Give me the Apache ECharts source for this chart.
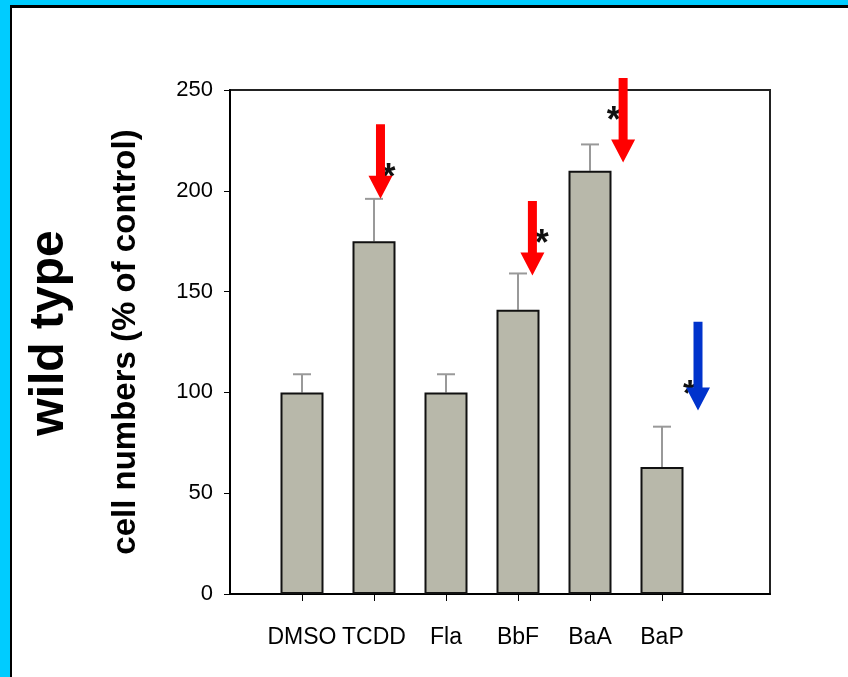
<!DOCTYPE html>
<html>
<head>
<meta charset="utf-8">
<script src="https://cdn.jsdelivr.net/npm/echarts@6/dist/echarts.min.js"></script>
<style>
  html, body { margin: 0; padding: 0; width: 848px; height: 677px; overflow: hidden; }
  #frame { position: absolute; left: 0; top: 0; width: 848px; height: 677px; background: #00CCFF; }
  #inner { position: absolute; left: 10px; top: 5px; width: 900px; height: 700px; background: #fff;
           border-left: 2px solid #000; border-top: 3px solid #000; }
  #chart { position: absolute; left: 0; top: 0; width: 848px; height: 677px; }
</style>
</head>
<body>
<div id="frame"><div id="inner"></div></div>
<div id="chart"></div>
<script>
// ---- data ----
const categories = ['DMSO', 'TCDD', 'Fla', 'BbF', 'BaA', 'BaP'];
const categoryPositions = [1, 2, 3, 4, 5, 6];
const meanValues = [100, 175, 100, 141, 210, 63];
const errorValues = [9, 21, 9, 18, 13, 20];
const yTickValues = [0, 50, 100, 150, 200, 250];

// significance arrows (x in category units, y in % of control)
const arrowX = [2.09, 4.2, 5.46, 6.5];
const arrowTail = [233, 195, 256, 135];
const arrowTip = [196, 158, 214, 91];
const arrowColors = ['#FF0000', '#FF0000', '#FF0000', '#0033CC'];
const starX = [2.2, 4.33, 5.33, 6.39];
const starY = [209, 176, 237, 101];

const titleText = 'wild type';
const yAxisTitle = 'cell numbers (% of control)';

// ---- chart ----
const chart = echarts.init(document.getElementById('chart'), null, { renderer: 'canvas' });
const sans = '"Liberation Sans", Arial, sans-serif';

const barData = categoryPositions.map((x, i) => [x, meanValues[i]]);
const errData = categoryPositions.map((x, i) => [x, meanValues[i], meanValues[i] + errorValues[i]]);
const arrowData = arrowX.map((x, i) => [x, arrowTail[i], arrowTip[i], i]);
const starData = starX.map((x, i) => [x, starY[i]]);

chart.setOption({
  backgroundColor: 'transparent',
  animation: false,
  graphic: [{
    type: 'text',
    x: 50, y: 333, rotation: Math.PI / 2,
    style: { text: titleText, font: 'bold 48px ' + sans, fill: '#000',
             align: 'center', verticalAlign: 'middle' }
  }],
  grid: { left: 230, right: 78, top: 90, bottom: 83, show: true, borderColor: '#222', borderWidth: 2,
          backgroundColor: 'transparent' },
  xAxis: {
    type: 'value', min: 0, max: 7.5,
    splitLine: { show: false },
    axisLine: { show: true, lineStyle: { color: '#000', width: 2 } },
    axisTick: { show: true, customValues: categoryPositions, length: 7, lineStyle: { color: '#000', width: 1 } },
    axisLabel: { customValues: categoryPositions, formatter: v => categories[Math.round(v) - 1] || '',
                 hideOverlap: false, margin: 32, fontFamily: sans, fontSize: 23, color: '#000' }
  },
  yAxis: {
    type: 'value', min: 0, max: 250, interval: 50,
    name: yAxisTitle, nameLocation: 'middle', nameRotate: 90, nameGap: 88,
    nameTextStyle: { fontFamily: sans, fontWeight: 'bold', fontSize: 33, color: '#000' },
    splitLine: { show: false },
    axisLine: { show: true, lineStyle: { color: '#000', width: 2 } },
    axisTick: { show: true, length: 6, lineStyle: { color: '#000', width: 1 } },
    axisLabel: { margin: 17, fontFamily: sans, fontSize: 22, color: '#000',
                 formatter: v => yTickValues.includes(v) ? String(v) : '' }
  },
  series: [
    {
      type: 'custom', name: 'errors', z: 1,
      data: errData,
      renderItem: (params, api) => {
        const x = api.value(0);
        const p0 = api.coord([x, api.value(1)]);
        const p1 = api.coord([x, api.value(2)]);
        return { type: 'group', children: [
          { type: 'line', shape: { x1: p0[0], y1: p0[1], x2: p1[0], y2: p1[1] }, style: { stroke: '#999', lineWidth: 2 } },
          { type: 'line', shape: { x1: p1[0] - 9, y1: p1[1], x2: p1[0] + 9, y2: p1[1] }, style: { stroke: '#999', lineWidth: 2 } }
        ]};
      }
    },
    {
      type: 'bar', name: 'cells', z: 2,
      data: barData, barWidth: 43,
      itemStyle: { color: '#B8B8AA', borderColor: '#111', borderWidth: 2 }
    },
    {
      type: 'custom', name: 'stars', z: 3, clip: false,
      data: starData,
      renderItem: (params, api) => {
        const p = api.coord([api.value(0), api.value(1)]);
        return { type: 'text', x: p[0], y: p[1] + 6,
          style: { text: '*', font: 'bold 36px ' + sans, fill: '#111',
                   align: 'center', verticalAlign: 'middle' } };
      }
    },
    {
      type: 'custom', name: 'arrows', z: 4, clip: false,
      data: arrowData,
      renderItem: (params, api) => {
        const x = api.value(0);
        const tail = api.coord([x, api.value(1)]);
        const tip = api.coord([x, api.value(2)]);
        const cx = tail[0];
        const hw = 4.5, hh = 12, hl = 23;
        const yb = tip[1] - hl;
        return { type: 'polygon',
          shape: { points: [[cx - hw, tail[1]], [cx + hw, tail[1]], [cx + hw, yb], [cx + hh, yb],
                            [cx, tip[1]], [cx - hh, yb], [cx - hw, yb]] },
          style: { fill: arrowColors[api.value(3)] } };
      }
    }
  ]
});
</script>
</body>
</html>
